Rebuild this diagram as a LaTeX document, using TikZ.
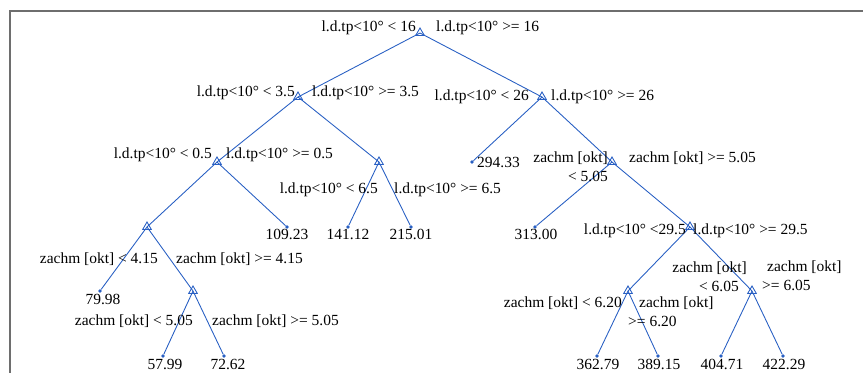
\documentclass[tikz,border=0pt]{standalone}
\usepackage{fontspec}
\setmainfont{Liberation Serif}
\usetikzlibrary{shapes.geometric}

\definecolor{treeblue}{RGB}{40,95,195}
\definecolor{framegray}{RGB}{110,110,110}

\begin{document}
\begin{tikzpicture}[
    x=0.03cm, y=-0.03cm,
    font=\fontsize{13.2}{16.2}\selectfont,
    split/.style={regular polygon, regular polygon sides=3, draw=treeblue, line width=0.75pt, inner sep=0pt, minimum size=0.3cm},
    leaf/.style={circle, fill=treeblue, inner sep=0pt, minimum size=0.11cm},
    val/.style={anchor=base, inner sep=0pt},
    lcond/.style={anchor=base east, inner sep=0pt},
    rcond/.style={anchor=base west, inner sep=0pt},
    edge/.style={treeblue, line width=0.75pt},
]
\useasboundingbox (0,0) rectangle (863,373);

% ============ frame ============
\draw[framegray, line width=1.2pt] (10,373) -- (10,11) -- (863,11);

% ============ split nodes ============
\node[split] (s16)   at (420, 33) {};
\node[split] (s35)   at (298, 97) {};
\node[split] (s26)   at (542, 97) {};
\node[split] (s05)   at (217,162) {};
\node[split] (s65)   at (379,162) {};
\node[split] (s505)  at (612,162) {};
\node[split] (s415)  at (147,227) {};
\node[split] (s295)  at (690,227) {};
\node[split] (s505b) at (193,291) {};
\node[split] (s620)  at (628,291) {};
\node[split] (s605)  at (752,291) {};

% ============ leaves ============
\node[leaf] (l109) at (287,227) {};
\node[leaf] (l141) at (348,227) {};
\node[leaf] (l215) at (411,227) {};
\node[leaf] (l294) at (472,162) {};
\node[leaf] (l313) at (535,227) {};
\node[leaf] (l79)  at (100,291) {};
\node[leaf] (l57)  at (163,356) {};
\node[leaf] (l72)  at (224,356) {};
\node[leaf] (l362) at (597,356) {};
\node[leaf] (l389) at (658,356) {};
\node[leaf] (l404) at (721,356) {};
\node[leaf] (l422) at (783,356) {};

% ============ branches ============
\draw[edge] (s16.center) -- (s35.center);
\draw[edge] (s16.center) -- (s26.center);
\draw[edge] (s35.center) -- (s05.center);
\draw[edge] (s35.center) -- (s65.center);
\draw[edge] (s26.center) -- (l294);
\draw[edge] (s26.center) -- (s505.center);
\draw[edge] (s05.center) -- (s415.center);
\draw[edge] (s05.center) -- (l109);
\draw[edge] (s65.center) -- (l141);
\draw[edge] (s65.center) -- (l215);
\draw[edge] (s505.center) -- (l313);
\draw[edge] (s505.center) -- (s295.center);
\draw[edge] (s415.center) -- (l79);
\draw[edge] (s415.center) -- (s505b.center);
\draw[edge] (s505b.center) -- (l57);
\draw[edge] (s505b.center) -- (l72);
\draw[edge] (s295.center) -- (s620.center);
\draw[edge] (s295.center) -- (s605.center);
\draw[edge] (s620.center) -- (l362);
\draw[edge] (s620.center) -- (l389);
\draw[edge] (s605.center) -- (l404);
\draw[edge] (s605.center) -- (l422);

% ============ split conditions ============
\node[lcond] (c16l) at (416, 32) {l.d.tp<10° < 16};
\node[rcond] (c16r) at (436, 32) {l.d.tp<10° >= 16};
\node[lcond] (c35l) at (295, 97) {l.d.tp<10° < 3.5};
\node[rcond] (c35r) at (312, 97) {l.d.tp<10° >= 3.5};
\node[lcond] (c26l) at (529,101) {l.d.tp<10° < 26};
\node[rcond] (c26r) at (551,101) {l.d.tp<10° >= 26};
\node[lcond] (c05l) at (212,159) {l.d.tp<10° < 0.5};
\node[rcond] (c05r) at (226,159) {l.d.tp<10° >= 0.5};
\node[lcond] (c65l) at (378,194) {l.d.tp<10° < 6.5};
\node[rcond] (c65r) at (394,194) {l.d.tp<10° >= 6.5};
\node[lcond] (c505l) at (608,163) {\begin{tabular}[t]{@{}r@{}}zachm [okt]\\< 5.05\end{tabular}};
\node[rcond] (c505r) at (629,163) {zachm [okt] >= 5.05};
\node[lcond] (c295l) at (686,235) {l.d.tp<10° <29.5};
\node[rcond] (c295r) at (693,235) {l.d.tp<10° >= 29.5};
\node[lcond] (c415l) at (158,264) {zachm [okt] < 4.15};
\node[rcond] (c415r) at (176,264) {zachm [okt] >= 4.15};
\node[lcond] (c505bl) at (193,326) {zachm [okt] < 5.05};
\node[rcond] (c505br) at (212,325) {zachm [okt] >= 5.05};
\node[lcond] (c620l) at (622,308) {zachm [okt] < 6.20};
\node[rcond] (c620r) at (639,308) {\begin{tabular}[t]{@{}l@{}}zachm [okt]\\\hspace*{-0.33cm}>= 6.20\end{tabular}};
\node[lcond] (c605l) at (747,273) {\begin{tabular}[t]{@{}r@{}}zachm [okt]\\< 6.05\hspace*{0.24cm}\end{tabular}};
\node[rcond] (c605r) at (767,272) {\begin{tabular}[t]{@{}l@{}}zachm [okt]\\\hspace*{-0.15cm}>= 6.05\end{tabular}};

% ============ leaf values ============
\node[val] (v109) at (287,240) {109.23};
\node[val] (v141) at (348,240) {141.12};
\node[val] (v215) at (411,240) {215.01};
\node[val, anchor=base west] (v294) at (477,168) {294.33};
\node[val] (v313) at (536,240) {313.00};
\node[val] (v79)  at (103,305) {79.98};
\node[val] (v57)  at (165,369) {57.99};
\node[val] (v72)  at (228,369) {72.62};
\node[val] (v362) at (598,369) {362.79};
\node[val] (v389) at (659,369) {389.15};
\node[val] (v404) at (722,369) {404.71};
\node[val] (v422) at (784,369) {422.29};

\end{tikzpicture}
\end{document}
